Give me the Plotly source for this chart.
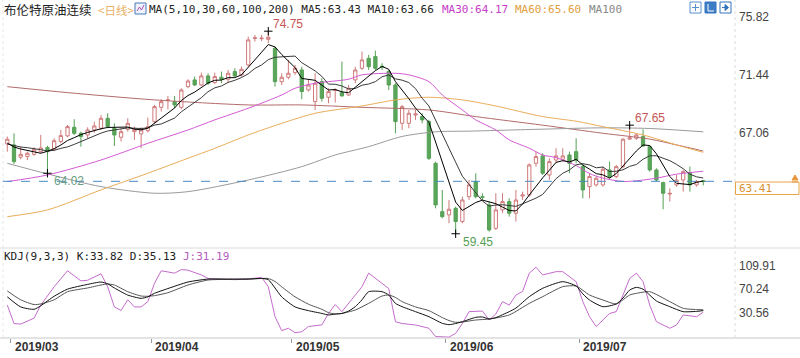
import plotly.graph_objects as go

W, H = 800, 358
def px(x): return x / W
def py(y): return 1 - y / H

# ---------------- data ----------------
open_ = [66.23, 66.16, 65.23, 65.28, 65.45, 65.65, 65.96, 65.83, 66.41, 66.84,
         67.49, 67.04, 66.91, 67.29, 67.42, 68.17, 67.42, 66.74, 67.34, 67.16,
         66.99, 67.24, 67.92, 69.00, 69.53, 69.43, 69.00, 70.56, 71.07, 70.69,
         71.37, 70.87, 71.27, 71.12, 71.70, 71.45, 72.20, 74.20, 74.18, 74.14,
         73.46, 70.94, 71.27, 71.62, 71.82, 70.31, 69.43, 70.94, 69.76, 70.28,
         70.11, 69.93, 71.07, 71.95, 72.70, 72.83, 72.10, 71.70, 70.69, 67.79,
         67.79, 68.42, 68.30, 67.92, 64.77, 61.12, 60.87, 61.37, 60.37, 62.25,
         63.39, 62.25, 61.63, 59.86, 61.25, 61.88, 61.00, 62.30, 62.38, 64.77,
         65.33, 63.89, 65.02, 65.07, 65.40, 65.65, 64.52, 63.01, 63.14, 63.14,
         64.27, 63.77, 64.52, 66.60, 66.66, 66.79, 66.03, 64.27, 63.31, 62.45,
         63.14, 63.51, 64.07, 63.14, 63.45]
high = [66.79, 67.04, 66.03, 65.65, 65.98, 66.91, 66.10, 66.66, 67.29, 67.67,
        68.10, 67.16, 67.49, 67.92, 68.42, 68.55, 67.79, 67.42, 68.17, 67.54,
        67.49, 68.22, 69.18, 69.61, 69.86, 69.86, 70.44, 71.12, 71.32, 71.62,
        71.57, 71.62, 71.70, 71.82, 71.95, 72.07, 74.34, 74.47, 74.47, 74.75,
        73.59, 71.57, 72.58, 72.20, 72.07, 71.07, 71.57, 71.19, 70.44, 70.44,
        72.45, 70.69, 72.07, 73.21, 72.96, 73.28, 72.33, 71.82, 70.82, 69.18,
        68.80, 68.80, 68.55, 68.05, 64.90, 62.76, 62.00, 61.50, 62.25, 63.51,
        64.02, 62.50, 61.88, 62.51, 62.51, 62.13, 62.76, 62.63, 64.77, 65.65,
        65.53, 65.15, 65.91, 65.91, 65.65, 66.66, 64.77, 64.02, 63.77, 64.52,
        64.90, 64.65, 66.66, 67.65, 67.04, 67.34, 66.16, 64.39, 63.39, 62.88,
        63.89, 64.27, 64.52, 63.51, 63.50]
low = [65.65, 64.72, 65.07, 65.02, 65.33, 65.53, 64.02, 65.73, 66.28, 66.74,
       66.91, 66.03, 66.66, 67.09, 67.29, 67.42, 66.08, 66.41, 67.16, 66.54,
       65.91, 67.09, 67.79, 68.68, 68.85, 68.93, 68.85, 70.44, 70.61, 70.61,
       70.69, 70.77, 70.82, 70.87, 71.27, 71.32, 72.07, 73.96, 74.00, 73.84,
       70.56, 70.69, 71.12, 71.45, 69.61, 70.19, 68.80, 69.43, 69.30, 69.36,
       69.81, 69.86, 70.82, 71.82, 71.82, 71.82, 71.82, 70.31, 67.04, 67.29,
       67.42, 68.05, 67.79, 65.02, 61.37, 60.62, 60.24, 59.45, 60.24, 62.00,
       62.13, 62.00, 59.61, 59.74, 61.00, 60.74, 60.37, 62.00, 62.25, 64.52,
       63.89, 63.51, 64.77, 64.90, 64.02, 64.77, 62.13, 62.13, 63.01, 63.01,
       63.64, 63.64, 64.39, 66.54, 66.54, 66.03, 64.14, 63.39, 61.30, 61.88,
       63.01, 62.63, 62.63, 63.01, 63.10]
close = [66.59, 64.90, 65.45, 65.53, 65.83, 65.93, 65.65, 66.48, 66.86, 67.54,
         67.04, 66.79, 67.29, 67.59, 68.17, 67.54, 66.91, 67.16, 67.79, 67.34,
         67.29, 67.54, 69.05, 69.43, 69.56, 69.18, 70.31, 70.99, 70.69, 71.37,
         70.82, 71.32, 71.12, 71.57, 71.37, 71.87, 74.09, 74.25, 74.22, 74.29,
         70.94, 71.27, 71.57, 71.95, 70.19, 70.69, 70.82, 69.68, 70.19, 70.31,
         69.86, 70.44, 71.82, 72.58, 72.07, 71.95, 72.05, 70.69, 67.92, 69.05,
         68.55, 68.50, 68.05, 65.15, 61.63, 60.74, 61.30, 60.37, 62.00, 63.14,
         62.25, 62.20, 59.74, 61.25, 61.88, 61.00, 62.00, 62.38, 64.65, 65.28,
         64.02, 64.90, 65.33, 65.33, 64.77, 65.02, 62.76, 63.77, 63.64, 64.32,
         63.77, 64.52, 66.59, 66.70, 66.91, 66.08, 64.27, 63.51, 62.51, 62.50,
         63.51, 64.14, 63.14, 63.39, 63.41]
bar_index = list(range(len(close)))

ma5 = [66.30, 66.00, 65.85, 65.75, 65.66, 65.53, 65.68, 65.88, 66.15, 66.49,
       66.71, 66.94, 67.10, 67.25, 67.38, 67.48, 67.50, 67.47, 67.51, 67.35,
       67.30, 67.42, 67.80, 68.13, 68.57, 68.95, 69.51, 69.89, 70.15, 70.51,
       70.84, 71.04, 71.06, 71.24, 71.24, 71.45, 72.00, 72.63, 73.16, 73.74,
       73.56, 72.99, 72.46, 72.00, 71.18, 71.13, 71.04, 70.67, 70.31, 70.34,
       70.17, 70.10, 70.52, 71.00, 71.35, 71.77, 72.09, 71.87, 70.94, 70.33,
       69.65, 68.94, 68.41, 67.86, 66.38, 64.81, 63.37, 61.84, 61.21, 61.51,
       61.81, 61.99, 61.87, 61.72, 61.46, 61.21, 61.17, 61.70, 62.38, 63.06,
       63.67, 64.25, 64.84, 64.97, 64.87, 65.07, 64.64, 64.33, 63.99, 63.90,
       63.65, 64.00, 64.57, 65.18, 65.70, 66.16, 66.11, 65.49, 64.66, 63.77,
       63.26, 63.23, 63.16, 63.34, 63.43]
ma10 = [66.23, 66.10, 66.00, 65.95, 65.90, 65.80, 65.70, 65.75, 65.90, 66.01,
        66.20, 66.41, 66.63, 66.87, 67.05, 67.21, 67.30, 67.36, 67.45, 67.42,
        67.40, 67.45, 67.66, 67.74, 67.94, 68.19, 68.66, 69.01, 69.36, 69.73,
        70.18, 70.47, 70.61, 70.88, 71.04, 71.25, 71.53, 71.94, 72.20, 72.60,
        72.78, 72.81, 72.81, 72.87, 72.37, 72.06, 71.75, 71.34, 70.75, 70.74,
        70.61, 70.39, 70.42, 70.67, 70.76, 70.94, 71.31, 71.44, 71.15, 71.05,
        70.87, 70.41, 69.68, 69.10, 68.02, 66.88, 65.89, 64.85, 63.80, 63.16,
        62.59, 61.92, 61.54, 61.62, 61.64, 61.60, 61.52, 61.71, 61.92, 62.14,
        62.42, 62.98, 63.61, 64.02, 64.27, 64.66, 64.74, 64.65, 64.43, 64.49,
        64.15, 64.17, 64.28, 64.54, 64.68, 65.08, 65.34, 65.34, 65.18, 64.97,
        64.69, 64.36, 63.95, 63.75, 63.66]

ma30_x = [0, 6, 14, 21, 27, 31, 36, 41, 43, 46, 51, 53, 58, 60, 63, 65, 68, 70, 73, 75,
          78, 80, 82, 85, 87, 89, 92, 94, 97, 100, 104]
ma30_y = [63.39, 63.89, 65.02, 66.28, 67.29, 68.05, 68.93, 69.93, 70.44, 70.82,
          71.12, 71.45, 71.57, 71.45, 70.94, 69.93, 68.80, 68.05, 67.29, 66.54,
          65.91, 65.40, 65.20, 64.60, 64.00, 63.65, 63.40, 63.45, 63.65, 63.95, 64.17]
ma60_x = [0, 6, 14, 21, 27, 31, 36, 41, 46, 53, 58, 63, 68, 73, 80, 85, 89, 95, 100, 104]
ma60_y = [60.74, 61.25, 62.76, 64.02, 65.15, 65.90, 66.91, 67.79, 68.55, 69.10,
          69.56, 69.76, 69.56, 69.10, 68.30, 67.95, 67.54, 66.91, 66.16, 65.60]
ma100_x = [0, 6, 14, 22, 27, 36, 44, 49, 54, 59, 64, 69, 80, 89, 96, 104]
ma100_y = [64.77, 63.97, 63.01, 62.51, 62.63, 63.51, 64.52, 65.40, 66.03, 66.80,
           67.15, 67.20, 67.35, 67.45, 67.40, 67.15]
ma200_x = [0, 9, 22, 36, 44, 53, 63, 70, 80, 89, 96, 100, 104]
ma200_y = [70.56, 70.11, 69.56, 69.18, 69.18, 69.00, 68.80, 68.30, 67.65, 67.04,
           66.60, 66.16, 65.70]

k_x = [0, 2, 4, 5, 7, 9, 12, 14, 15, 16, 18, 20, 21, 22, 24, 27, 30, 33, 36, 38,
       39, 40, 41, 43, 45, 47, 48, 49, 50, 51, 52, 53, 54, 56, 57, 58, 59, 61, 63, 65,
       66, 67, 68, 70, 71, 72, 73, 75, 76, 78, 80, 83, 85, 86, 87, 89, 91, 92, 93, 94,
       95, 96, 97, 99, 101, 103, 104]
k_y = [57, 40, 36, 42, 58, 70, 78, 82, 79, 72, 60, 54.5, 57, 63, 71, 82, 87, 87, 87, 88,
       86, 72, 57, 40, 33.7, 29, 26.4, 28, 29, 33, 40.4, 52, 65.7, 65.7, 60, 46, 40.4, 32, 23.5, 12.3,
       10, 12, 15, 22.4, 23, 19.6, 22, 32, 38, 57.3, 71.4, 82.6, 75.3, 62, 51.7, 40.4, 45, 55, 68.5, 73,
       70, 60, 50, 40.4, 32, 32.5, 33.82]
d_x = [0, 2, 4, 5, 7, 9, 12, 14, 15, 16, 18, 20, 21, 22, 24, 27, 30, 33, 36, 38,
       39, 40, 41, 43, 45, 47, 48, 49, 50, 52, 54, 56, 57, 58, 59, 61, 63, 65, 66, 67,
       68, 70, 72, 75, 78, 80, 83, 85, 87, 89, 91, 93, 94, 96, 99, 101, 103, 104]
d_y = [67, 52, 44, 45, 52, 65.7, 72, 77, 78.7, 77, 65.7, 58.4, 58, 59, 64, 77, 85.4, 86.5, 87, 88,
       88, 83, 74, 57, 44.6, 36, 30.3, 28, 29, 34.8, 46, 58.4, 60.1, 56, 48.9, 40, 33.7, 22, 17, 14,
       14.5, 17.9, 19.6, 26.4, 46, 57.3, 74.2, 75.3, 60.1, 51.7, 45, 60.1, 62.9, 65.7, 48.9, 37.6, 35.5, 35.13]
j_x = [0, 1, 2, 4, 5, 7, 9, 11, 12, 14, 15, 16, 17, 18, 19, 20, 21, 22, 23, 25,
       26, 27, 29, 30, 31, 34, 36, 38, 39, 40, 41, 42, 43, 44, 45, 47, 48, 49, 50, 51,
       53, 54, 55, 57, 58, 59, 61, 63, 64, 66, 67, 68, 69, 71, 72, 73, 74, 75, 76, 77,
       78, 79, 80, 82, 83, 85, 86, 87, 88, 90, 91, 92, 93, 94, 95, 96, 97, 99, 100, 101,
       103, 104]
j_y = [43, 12, 11, 21, 43, 74, 101, 84, 85, 96, 74, 40, 34, 52, 40, 40, 49, 80, 101, 97,
       103, 102, 94, 88, 87, 86, 87, 90, 74, 23.5, 0, 4, -3.5, -2, 7, 9.5, 29, 44, 32, 46,
       74, 97, 88, 71, 15, 12, 9.5, 4, -10, -11, -4.6, 12, 32, 33, 18, 28, 49, 43, 60, 66,
       97, 107, 94, 99.5, 99.5, 82.6, 49, 23.5, 6.7, 29, 32, 60, 88, 97, 82.6, 43, 15, 4, 9.5, 26.4,
       23.5, 31.19]

price_ticks = [67.06, 71.44, 75.82]
kdj_ticks = [30.56, 70.24, 109.91]
month_labels = ["2019/03", "2019/04", "2019/05", "2019/06", "2019/07"]
month_start = [1, 22, 43, 66, 86]
last_price = 63.41
hi_idx, hi_val = [39, 93], [74.75, 67.65]
lo_idx, lo_val = [6, 67], [64.02, 59.45]

# ---------------- figure ----------------
MONO = "DejaVu Sans Mono, Liberation Mono, monospace"
SANS = "Liberation Sans, Arial, sans-serif"
CJK = "Noto Sans CJK SC, sans-serif"

fig = go.Figure()

fig.add_trace(go.Candlestick(
    x=bar_index, open=open_, high=high, low=low, close=close,
    xaxis="x2", yaxis="y",
    increasing=dict(line=dict(color="#d07a7a", width=1), fillcolor="#ffffff"),
    decreasing=dict(line=dict(color="#55a055", width=1), fillcolor="#5aa65a"),
    whiskerwidth=0, hoverinfo="skip", showlegend=False))

def line(x, y, color, ax="x2", ay="y", width=1, shape="linear", smooth=None):
    l = dict(color=color, width=width, shape=shape)
    if smooth is not None:
        l["smoothing"] = smooth
    fig.add_trace(go.Scatter(x=x, y=y, mode="lines", line=l, xaxis=ax, yaxis=ay,
                             hoverinfo="skip", showlegend=False))

line(ma200_x, ma200_y, "#b36b6b", shape="spline", smooth=0.8)
line(ma100_x, ma100_y, "#9a9a9a", shape="spline", smooth=0.8)
line(ma60_x, ma60_y, "#e9ad5a", shape="spline", smooth=0.8)
line(ma30_x, ma30_y, "#d35bd3", shape="spline", smooth=0.8)
line(bar_index, ma10, "#3a3a3a")
line(bar_index, ma5, "#000000")

# extreme markers
fig.add_trace(go.Scatter(x=hi_idx + lo_idx, y=hi_val + lo_val, mode="markers",
                         marker=dict(symbol="cross-thin", size=6, line=dict(color="#000", width=1)),
                         xaxis="x2", yaxis="y", hoverinfo="skip", showlegend=False))

# KDJ
line(j_x, j_y, "#c46ccc", ax="x", ay="y2")
line(d_x, d_y, "#555555", ax="x", ay="y2", shape="spline", smooth=0.6)
line(k_x, k_y, "#111111", ax="x", ay="y2", shape="spline", smooth=0.6)

x_range = [-0.643, 108.74]
fig.update_layout(
    width=W, height=H, margin=dict(l=0, r=0, t=0, b=0),
    paper_bgcolor="white", plot_bgcolor="white", showlegend=False,
    xaxis=dict(domain=[px(3), px(735)], range=x_range, anchor="y2",
               showgrid=False, zeroline=False, showline=False,
               tickvals=[m - 0.5 for m in month_start], ticks="outside", ticklen=4,
               tickcolor="#999", showticklabels=False, rangeslider=dict(visible=False)),
    xaxis2=dict(domain=[px(3), px(735)], range=x_range, anchor="y", matches="x",
                visible=False, rangeslider=dict(visible=False)),
    yaxis=dict(domain=[py(248), 1], range=[58.374, 77.105], anchor="x2", side="right",
               showgrid=False, zeroline=False, showline=False, ticks="",
               tickvals=price_ticks, showticklabels=False),
    yaxis2=dict(domain=[py(338), py(248)], range=[-12.47, 139.45], anchor="x", side="right",
                showgrid=False, zeroline=False, showline=False, ticks="",
                tickvals=kdj_ticks, showticklabels=False),
)

shapes = [
    dict(type="line", xref="paper", yref="paper", x0=0, x1=1, y0=py(248), y1=py(248),
         line=dict(color="#d9d9d9", width=1)),
    dict(type="line", xref="paper", yref="paper", x0=0, x1=1, y0=py(338), y1=py(338),
         line=dict(color="#c8c8c8", width=1)),
    dict(type="line", xref="paper", yref="paper", x0=px(735), x1=px(735), y0=py(338), y1=1,
         line=dict(color="#dcdcdc", width=1, dash="dot")),
    dict(type="line", xref="paper", yref="paper", x0=px(3), x1=px(3), y0=py(338), y1=1,
         line=dict(color="#e6e6e6", width=1, dash="dot")),
    dict(type="line", xref="paper", yref="y", x0=px(3), x1=px(735), y0=last_price, y1=last_price,
         line=dict(color="#4a8ac6", width=1, dash="dash")),
    dict(type="rect", xref="paper", yref="paper", x0=px(735.5), x1=px(799), y0=py(194.5), y1=py(182),
         line=dict(color="#eaa443", width=1), fillcolor="white"),
    # small orange marker above price box
    dict(type="path", xref="paper", yref="paper",
         path=f"M {px(792)},{py(180)} L {px(798)},{py(180)} L {px(795)},{py(175)} Z",
         line=dict(color="#e8973a", width=1), fillcolor="#e8973a"),
    dict(type="line", xref="paper", yref="paper", x0=px(792), x1=px(798), y0=py(182), y1=py(182),
         line=dict(color="#e8973a", width=1)),
    # MA icon
    dict(type="rect", xref="paper", yref="paper", x0=px(135), x1=px(146), y0=py(14), y1=py(3),
         line=dict(color="#4a78b8", width=1), fillcolor="#eef3fb"),
    dict(type="path", xref="paper", yref="paper",
         path=f"M {px(137)},{py(11)} L {px(139.5)},{py(7)} L {px(141.5)},{py(10)} L {px(144)},{py(5)}",
         line=dict(color="#b050b8", width=1)),
    # top-right tool icons
    dict(type="rect", xref="paper", yref="paper", x0=px(690), x1=px(701), y0=py(13), y1=py(2),
         line=dict(color="#5a8fcc", width=1), fillcolor="white"),
    dict(type="line", xref="paper", yref="paper", x0=px(695.5), x1=px(695.5), y0=py(11), y1=py(4),
         line=dict(color="#5a8fcc", width=1)),
    dict(type="line", xref="paper", yref="paper", x0=px(692), x1=px(699), y0=py(7.5), y1=py(7.5),
         line=dict(color="#5a8fcc", width=1)),
    dict(type="rect", xref="paper", yref="paper", x0=px(705), x1=px(716), y0=py(13), y1=py(2),
         line=dict(color="#3572bd", width=1), fillcolor="#3f7cc6"),
    dict(type="path", xref="paper", yref="paper",
         path=f"M {px(708)},{py(4)} L {px(708)},{py(11)} L {px(714)},{py(11)}",
         line=dict(color="white", width=1)),
    dict(type="rect", xref="paper", yref="paper", x0=px(720), x1=px(731), y0=py(13), y1=py(2),
         line=dict(color="#3572bd", width=1), fillcolor="white"),
    dict(type="path", xref="paper", yref="paper",
         path=f"M {px(722)},{py(7.5)} L {px(726)},{py(7.5)} M {px(725)},{py(4.5)} L {px(728.5)},{py(7.5)} L {px(725)},{py(10.5)} Z",
         line=dict(color="#3572bd", width=1), fillcolor="#3572bd"),
]
fig.update_layout(shapes=shapes)

ann = []
def pa(x, y, text, color, size, family, anchor="left"):
    ann.append(dict(xref="paper", yref="paper", x=px(x), y=py(y), text=text, showarrow=False,
                    xanchor=anchor, yanchor="middle", font=dict(color=color, size=size, family=family)))

pa(2, 9.5, "布伦特原油连续", "#222", 12.5, CJK)
pa(96, 9.5, "&lt;日线&gt;", "#e9b063", 11.5, CJK)
pa(147, 9, "MA(5,10,30,60,100,200) MA5:63.43 MA10:63.66", "#222", 11, MONO)
pa(440, 9, "MA30:64.17", "#c63dc6", 11, MONO)
pa(513, 9, "MA60:65.60", "#e2a040", 11, MONO)
pa(587, 9, "MA100", "#888", 11, MONO)
pa(2, 256.5, "KDJ(9,3,3) K:33.82 D:35.13", "#222", 11, MONO)
pa(181, 256.5, "J:31.19", "#b45cbc", 11, MONO)
pa(737, 188.5, f"{last_price:.2f}", "#d8902e", 11, MONO)

# right-hand axis labels
for v in price_ticks:
    ann.append(dict(xref="paper", yref="y", x=px(737), y=v, text=f"{v:.2f}", showarrow=False,
                    xanchor="left", yanchor="middle", font=dict(color="#444", size=12, family=SANS)))
for v in kdj_ticks:
    ann.append(dict(xref="paper", yref="y2", x=px(737), y=v, text=f"{v:.2f}", showarrow=False,
                    xanchor="left", yanchor="middle", font=dict(color="#444", size=12, family=SANS)))

# month labels on the date axis
for m, lab in zip(month_start, month_labels):
    ann.append(dict(xref="x", yref="paper", x=m - 0.5, y=py(347), text=lab, showarrow=False,
                    xanchor="left", yanchor="middle", xshift=2,
                    font=dict(color="#333", size=12, family=SANS, weight="bold")))

# high / low labels
for i, v in zip(hi_idx, hi_val):
    ann.append(dict(xref="x2", yref="y", x=i, y=v, text=f"{v:.2f}", showarrow=False,
                    xanchor="left", yanchor="middle", xshift=3, yshift=7,
                    font=dict(color="#c75656", size=12, family=SANS)))
lo_colors = ["#6a9e84", "#55a055"]
for (i, v), c in zip(zip(lo_idx, lo_val), lo_colors):
    ann.append(dict(xref="x2", yref="y", x=i, y=v, text=f"{v:.2f}", showarrow=False,
                    xanchor="left", yanchor="middle", xshift=5, yshift=-8,
                    font=dict(color=c, size=12, family=SANS)))

fig.update_layout(annotations=ann)
fig.write_html("out.html", config=dict(displayModeBar=False),
               post_script="document.body.style.margin='0px';")
